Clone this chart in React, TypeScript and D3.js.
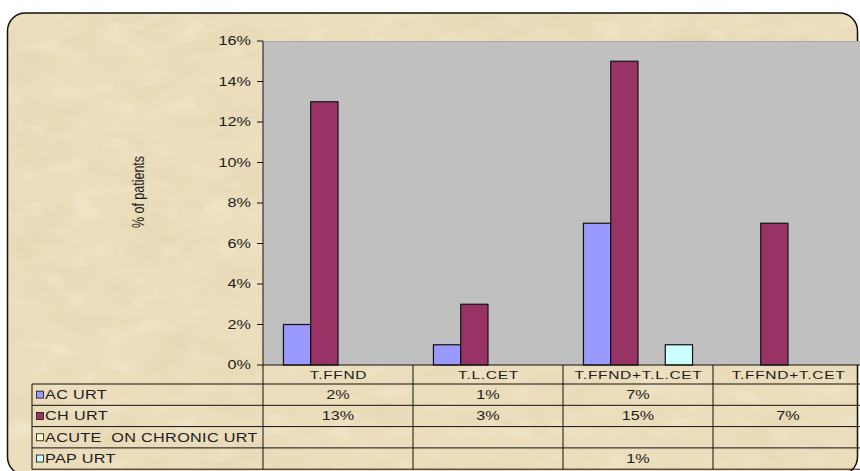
import React from "react";
import * as d3 from "d3";

const categories = ["T.FFND", "T.L.CET", "T.FFND+T.L.CET", "T.FFND+T.CET"];
const seriesNames = ["AC URT", "CH URT", "ACUTE  ON CHRONIC URT", "PAP URT"];
const acUrt: (number | null)[] = [2, 1, 7, null];
const chUrt: (number | null)[] = [13, 3, 15, 7];
const acuteOnChronicUrt: (number | null)[] = [null, null, null, null];
const papUrt: (number | null)[] = [null, null, 1, null];
const yTickValues = [0, 2, 4, 6, 8, 10, 12, 14, 16];
const seriesColors = ["#9999ff", "#993366", "#ffffcc", "#ccffff"];

const seriesValues = [acUrt, chUrt, acuteOnChronicUrt, papUrt];

const W = 860;
const H = 471;
const plotLeft = 263;
const plotTop = 41;
const plotBottom = 365;
const catWidth = 150;
const tableLeft = 32;
const headerBottom = 384;
const rowH = 21.3;
const SX = 1.35;
const FONT = "'Liberation Sans', Arial, sans-serif";
const TXT = "#1c1c1c";

function T({ x, y, anchor = "middle", size = 12, ls = 0, children }: any) {
  return (
    <g transform={`translate(${x},${y}) scale(${SX},1)`}>
      <text
        textAnchor={anchor}
        fontFamily={FONT}
        fontSize={size}
        fill={TXT}
        letterSpacing={ls}
        style={{ whiteSpace: "pre" }}
      >
        {children}
      </text>
    </g>
  );
}

export default function App() {
  const x = d3
    .scaleBand<string>()
    .domain(categories)
    .range([plotLeft, plotLeft + categories.length * catWidth])
    .padding(0);
  const inner = d3
    .scaleBand<number>()
    .domain(seriesNames.map((_, i) => i))
    .range([0, x.bandwidth()])
    .paddingInner(0)
    .paddingOuter(0.75);
  const y = d3.scaleLinear().domain([0, 16]).range([plotBottom, plotTop]);
  const plotRight = plotLeft + categories.length * catWidth;
  const rowsY = seriesNames.map((_, i) => headerBottom + i * rowH);
  const tableBottom = headerBottom + seriesNames.length * rowH;

  const frameX = 7.5, frameY = 13, frameW = 850, frameH = 462, r = 18;

  return (
    <svg
      width={W}
      height={H}
      style={{ position: "absolute", left: 0, top: 0, background: "#fff" }}
    >
      <defs>
        <clipPath id="frameClip">
          <rect x={frameX} y={frameY} width={frameW} height={frameH} rx={r} ry={r} />
        </clipPath>
        <filter id="parch" x="0" y="0" width="100%" height="100%">
          <feTurbulence type="fractalNoise" baseFrequency="0.015 0.03" numOctaves="5" seed="7" result="n" />
          <feColorMatrix
            in="n"
            type="matrix"
            values="0 0 0 0 0.74  0 0 0 0 0.63  0 0 0 0 0.42  2.2 0 0 0 -0.95"
          />
        </filter>
        <filter id="parch2" x="0" y="0" width="100%" height="100%">
          <feTurbulence type="fractalNoise" baseFrequency="0.03 0.05" numOctaves="3" seed="2" result="n" />
          <feColorMatrix
            in="n"
            type="matrix"
            values="0 0 0 0 1  0 0 0 0 0.98  0 0 0 0 0.92  -2.4 0 0 0 1.1"
          />
        </filter>
      </defs>

      <g clipPath="url(#frameClip)">
        <rect x={0} y={0} width={W} height={H} fill="#ecdebc" />
        <rect x={0} y={0} width={W} height={H} filter="url(#parch)" opacity={0.4} />
        <rect x={0} y={0} width={W} height={H} filter="url(#parch2)" opacity={0.3} />
      </g>
      <rect
        x={frameX}
        y={frameY}
        width={frameW}
        height={frameH}
        rx={r}
        ry={r}
        fill="none"
        stroke="#111"
        strokeWidth={1.5}
      />

      {/* plot area */}
      <rect x={plotLeft} y={plotTop} width={plotRight - plotLeft} height={plotBottom - plotTop} fill="#c0c0c0" />
      <line x1={plotLeft} x2={plotRight} y1={plotTop + 0.5} y2={plotTop + 0.5} stroke="#a8a8a8" />

      {/* bars */}
      {seriesValues.map((vals, si) =>
        vals.map((v, ci) =>
          v == null ? null : (
            <rect
              key={`${si}-${ci}`}
              x={(x(categories[ci]) as number) + (inner(si) as number)}
              y={y(v)}
              width={inner.bandwidth()}
              height={y(0) - y(v)}
              fill={seriesColors[si]}
              stroke="#111"
              strokeWidth={1.2}
            />
          )
        )
      )}

      {/* y axis */}
      <line x1={plotLeft} x2={plotLeft} y1={plotTop} y2={plotBottom} stroke="#111" />
      {yTickValues.map((t) => (
        <g key={t}>
          <line x1={plotLeft - 6} x2={plotLeft} y1={y(t)} y2={y(t)} stroke="#111" />
          <T x={251} y={y(t) + 4.3} anchor="end" size={12}>{`${t}%`}</T>
        </g>
      ))}
      <g transform={`translate(${144},${192}) scale(${SX},1) rotate(-90)`}>
        <text textAnchor="middle" fontFamily={FONT} fontSize={12.5} fill={TXT}>
          % of patients
        </text>
      </g>

      {/* data table */}
      <line x1={plotLeft} x2={plotRight} y1={plotBottom} y2={plotBottom} stroke="#111" />
      {[...rowsY, tableBottom].map((ry, i) => (
        <line key={i} x1={tableLeft} x2={plotRight} y1={ry} y2={ry} stroke="#111" />
      ))}
      <line x1={tableLeft} x2={tableLeft} y1={headerBottom} y2={tableBottom} stroke="#111" />
      {categories.map((c) => (
        <line
          key={c}
          x1={x(c) as number}
          x2={x(c) as number}
          y1={plotBottom}
          y2={tableBottom}
          stroke="#111"
        />
      ))}
      {categories.map((c) => (
        <T key={c} x={(x(c) as number) + x.bandwidth() / 2 + 0.5} y={379} size={11.5} ls={0.5}>
          {c}
        </T>
      ))}
      {seriesNames.map((s, si) => (
        <g key={s}>
          <rect
            x={36.5}
            y={rowsY[si] + rowH / 2 - 3.5}
            width={7}
            height={7}
            fill={seriesColors[si]}
            stroke="#111"
            strokeWidth={0.8}
          />
          <T x={45} y={rowsY[si] + rowH / 2 + 4.3} anchor="start" size={12} ls={0.25}>
            {s}
          </T>
          {seriesValues[si].map((v, ci) =>
            v == null ? null : (
              <T
                key={ci}
                x={(x(categories[ci]) as number) + x.bandwidth() / 2}
                y={rowsY[si] + rowH / 2 + 4.3}
                size={12}
              >
                {`${v}%`}
              </T>
            )
          )}
        </g>
      ))}
    </svg>
  );
}
